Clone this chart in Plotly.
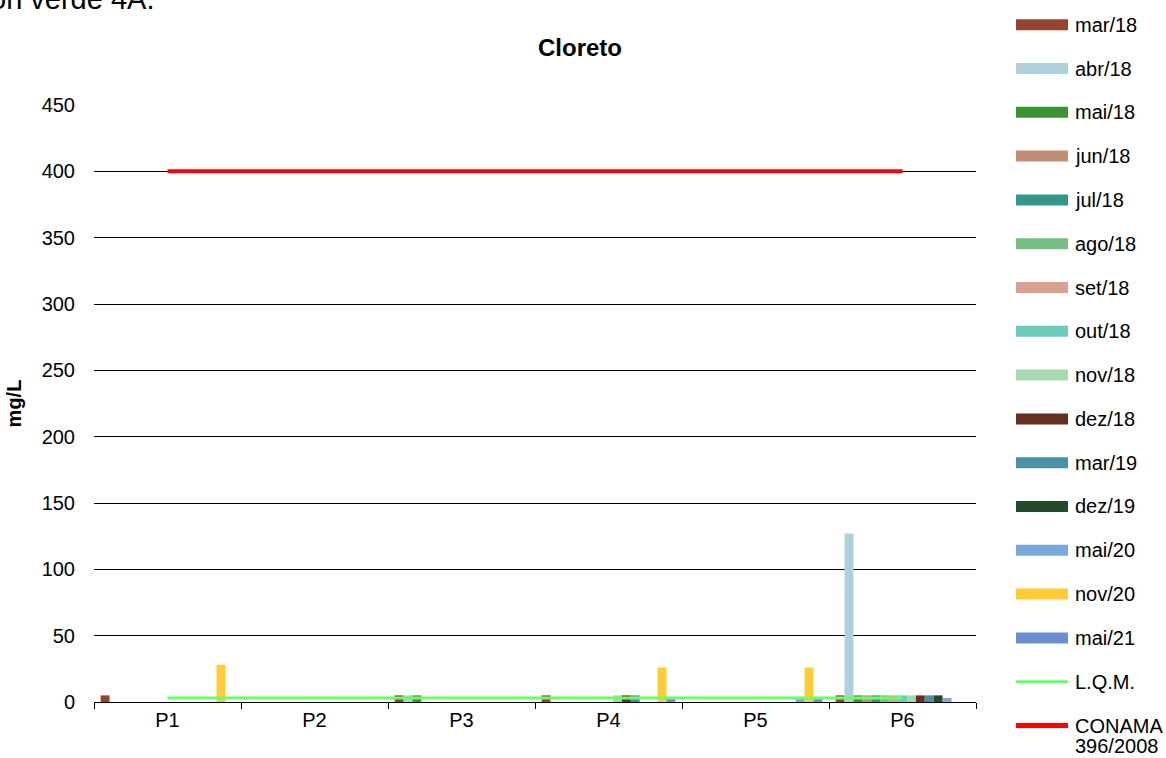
import plotly.graph_objects as go

# ---- data -------------------------------------------------------------
categories = ["P1", "P2", "P3", "P4", "P5", "P6"]

series_names = ["mar/18", "abr/18", "mai/18", "jun/18", "jul/18", "ago/18",
                "set/18", "out/18", "nov/18", "dez/18", "mar/19", "dez/19",
                "mai/20", "nov/20", "mai/21"]

mar18 = [5, None, 5, 5, None, 5]
abr18 = [None, None, 5, None, None, 127]
mai18 = [None, None, 5, None, None, 5]
jun18 = [None, None, None, None, None, 5]
jul18 = [None, None, None, None, None, 5]
ago18 = [None, None, None, None, None, 5]
set18 = [None, None, None, None, None, 5]
out18 = [None, None, None, None, None, 5]
nov18 = [None, None, None, 5, None, 5]
dez18 = [None, None, None, 5, None, 5]
mar19 = [None, None, None, 5, None, 5]
dez19 = [None, None, None, None, None, 5]
mai20 = [None, None, None, None, 2.5, 3]
nov20 = [28, None, None, 26, 26, None]
mai21 = [None, None, None, 2.5, 2.5, None]

lqm = [3, 3, 3, 3, 3, 3]
conama = [400, 400, 400, 400, 400, 400]

y_ticks = [0, 50, 100, 150, 200, 250, 300, 350, 400, 450]

series_values = [mar18, abr18, mai18, jun18, jul18, ago18, set18, out18,
                 nov18, dez18, mar19, dez19, mai20, nov20, mai21]

series_colors = ["#934733", "#AED0DA", "#3A9232", "#C28B73", "#33968A",
                 "#74BF82", "#D9A190", "#6ACBBD", "#A8D8B0", "#643022",
                 "#4A91A6", "#244A2C", "#7AAADC", "#FFCC33", "#6A8ECE"]
lqm_color = "#66FF66"
conama_color = "#FF0000"

# ---- geometry ---------------------------------------------------------
W, H = 1166, 758
L, R, T, B = 94, 190, 105, 56
PW, PH = W - L - R, H - T - B
FONT = "Liberation Sans, Arial, sans-serif"


def px(x):
    return (x - L) / PW


def py(y):
    return 1 - (y - T) / PH


fig = go.Figure()

for name, vals, col in zip(series_names, series_values, series_colors):
    fig.add_trace(go.Bar(x=categories, y=vals, name=name,
                         marker=dict(color=col, line=dict(width=0)),
                         showlegend=False))

fig.add_trace(go.Scatter(x=categories, y=lqm, name="L.Q.M.", mode="lines",
                         line=dict(color=lqm_color, width=3), showlegend=False))
fig.add_trace(go.Scatter(x=categories, y=conama, name="CONAMA 396/2008",
                         mode="lines", line=dict(color=conama_color, width=4),
                         showlegend=False))

# ---- legend drawn at the right side -----------------------------------
shapes = []
annotations = []
row0, step = 24.7, 43.8
sx0, sx1, tx = 1016, 1068, 1073


def legend_text(text, yc):
    annotations.append(dict(x=px(tx), y=py(yc), xref="paper", yref="paper",
                            text=text, showarrow=False, xanchor="left",
                            yanchor="middle", font=dict(size=20, color="#000")))


for i, (name, col) in enumerate(zip(series_names, series_colors)):
    yc = row0 + step * i
    shapes.append(dict(type="rect", xref="paper", yref="paper",
                       x0=px(sx0), x1=px(sx1), y0=py(yc + 5.5), y1=py(yc - 5.5),
                       fillcolor=col, line=dict(width=0)))
    legend_text(name, yc)

yc = row0 + step * 15
shapes.append(dict(type="line", xref="paper", yref="paper",
                   x0=px(sx0), x1=px(sx1), y0=py(yc), y1=py(yc),
                   line=dict(color=lqm_color, width=3)))
legend_text("L.Q.M.", yc)

yc = row0 + step * 16
shapes.append(dict(type="line", xref="paper", yref="paper",
                   x0=px(sx0), x1=px(sx1), y0=py(yc), y1=py(yc),
                   line=dict(color=conama_color, width=5)))
legend_text("CONAMA", yc)
legend_text("396/2008", yc + 20)

# heading text partly above the page edge
annotations.append(dict(x=px(156), y=py(-1), xref="paper", yref="paper",
                        text="on verde 4A.", showarrow=False, xanchor="right",
                        yanchor="middle", font=dict(size=29, color="#000")))

# chart title
annotations.append(dict(x=px(580), y=py(48), xref="paper", yref="paper",
                        text="<b>Cloreto</b>", showarrow=False,
                        xanchor="center", yanchor="middle",
                        font=dict(size=24, color="#000")))

fig.update_layout(
    width=W, height=H,
    margin=dict(l=L, r=R, t=T, b=B, pad=0),
    paper_bgcolor="white", plot_bgcolor="white",
    barmode="group", bargap=0.09, bargroupgap=0,
    font=dict(family=FONT, size=20, color="#000"),
    shapes=shapes, annotations=annotations,
    showlegend=False,
)

fig.update_xaxes(
    type="category", tickson="boundaries", ticks="outside", ticklen=6,
    tickcolor="#000", tickwidth=1, showline=True, linecolor="#000",
    linewidth=1, showgrid=False, tickfont=dict(size=20, color="#000"),
)
fig.update_yaxes(
    range=[0, 450], tickvals=y_ticks, showgrid=True, gridcolor="#000",
    gridwidth=1, zeroline=False, showline=False, ticks="",
    tickfont=dict(size=20, color="#000"), ticklabelstandoff=18,
    title=dict(text="<b>mg/L</b>", font=dict(size=20, color="#000"), standoff=14),
)

fig.write_html("out.html")
